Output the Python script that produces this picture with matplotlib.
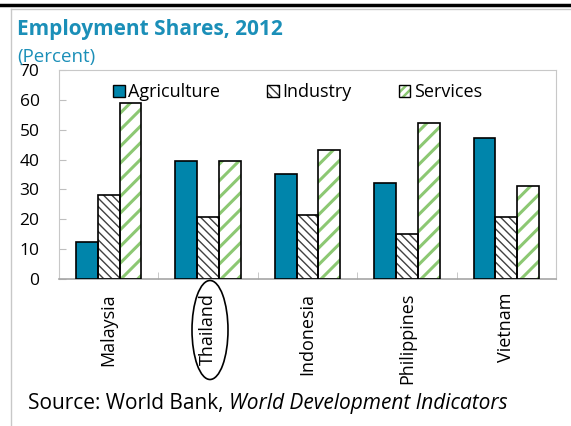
import matplotlib.pyplot as plt
from matplotlib.patches import Ellipse, Rectangle
from matplotlib.legend_handler import HandlerTuple
from matplotlib.lines import Line2D
import numpy as np

# data
countries = ['Malaysia', 'Thailand', 'Indonesia', 'Philippines', 'Vietnam']
agriculture = [12.5, 39.4, 35.1, 32.1, 47.2]
industry = [28.2, 20.9, 21.4, 15.1, 20.9]
services = [59.0, 39.4, 43.3, 52.2, 31.0]
yticks = [0, 10, 20, 30, 40, 50, 60, 70]

teal = '#0085ab'
green = '#8cc873'
title_blue = '#1b8fb8'

plt.rcParams['font.family'] = ['Open Sans', 'DejaVu Sans']

fig = plt.figure(figsize=(5.71, 4.26), dpi=100)
ax = fig.add_axes([59 / 571, 1 - 279 / 426, (556 - 59) / 571, (279 - 70) / 426])

x = np.arange(len(countries))
w = 0.219


def hatch_bars(xs, vals, hatch, hcolor, hlw):
    bars = ax.bar(xs, vals, w, color='white', edgecolor=hcolor, hatch=hatch, linewidth=0, zorder=2)
    for b in bars:
        if hasattr(b, 'set_hatch_linewidth'):
            b.set_hatch_linewidth(hlw)
    outline = ax.bar(xs, vals, w, fill=False, edgecolor='black', linewidth=1.2, zorder=3)
    return bars, outline


agri = ax.bar(x - w, agriculture, w, color=teal, edgecolor='black', linewidth=1.2, zorder=3)
ind_h, ind_o = hatch_bars(x, industry, '\\\\\\\\', '#404040', 1.0)
ser_h, ser_o = hatch_bars(x + w, services, '//', green, 2.2)

ax.set_xlim(-0.5, len(countries) - 0.5)
ax.set_ylim(0, 70)
ax.set_yticks(yticks)
ax.set_xticks(x)
ax.set_xticklabels(countries, rotation=90, fontsize=13, va='top')
ax.set_xticks(np.arange(len(countries) + 1) - 0.5, minor=True)
ax.tick_params(axis='x', which='major', length=0, pad=10)
ax.tick_params(axis='x', which='minor', direction='in', length=5, color='#bfbfbf')
ax.tick_params(axis='y', direction='in', length=5, color='#bfbfbf', labelsize=12.5, pad=14)
for s in ['top', 'right', 'left']:
    ax.spines[s].set_color('#c8c8c8')
ax.spines['bottom'].set_color('#a6a6a6')
ax.spines['bottom'].set_linewidth(1.2)

# legend with overlaid hatch + outline
agri_p = Rectangle((0, 0), 1, 1, facecolor=teal, edgecolor='black', linewidth=1)
ind_hp = Rectangle((0, 0), 1, 1, facecolor='white', edgecolor='#404040', hatch='\\\\\\\\', linewidth=0)
ind_op = Rectangle((0, 0), 1, 1, fill=False, edgecolor='black', linewidth=1)
ser_hp = Rectangle((0, 0), 1, 1, facecolor='white', edgecolor=green, hatch='////', linewidth=0)
ser_op = Rectangle((0, 0), 1, 1, fill=False, edgecolor='black', linewidth=1)
leg = ax.legend([agri_p, (ind_hp, ind_op), (ser_hp, ser_op)], ['Agriculture', 'Industry', 'Services'],
                handler_map={tuple: HandlerTuple(ndivide=1, pad=0)}, ncol=3, frameon=False,
                loc='upper center', bbox_to_anchor=(0.48, 1.015), fontsize=13,
                handlelength=0.65, handleheight=0.65, handletextpad=0.2, columnspacing=2.6)
for p in leg.findobj(Rectangle):
    if p.get_hatch() == '////' and hasattr(p, 'set_hatch_linewidth'):
        p.set_hatch_linewidth(1.8)

# titles and source
fig.text(17 / 571, 1 - 29 / 426, 'Employment Shares, 2012', fontsize=15, fontweight='bold',
         color=title_blue, va='center')
fig.text(17 / 571, 1 - 57 / 426, '(Percent)', fontsize=13.5, color=title_blue, va='center')
src = fig.text(28 / 571, 1 - 404 / 426, 'Source: World Bank, ', fontsize=15, va='center')
ax.annotate('World Development Indicators', xy=(1, 0.5), xycoords=src, va='center', ha='left',
            fontsize=15, style='italic', annotation_clip=False)

# circle around Thailand
fig.patches.append(Ellipse((210 / 571, 1 - 330 / 426), 36 / 571, 99 / 426, transform=fig.transFigure,
                           fill=False, edgecolor='black', linewidth=1.2))

# outer frame lines
fig.add_artist(Line2D([0, 1], [1 - 5 / 426, 1 - 5 / 426], color='black', linewidth=2.5))
fig.add_artist(Line2D([11 / 571, 11 / 571], [0, 1 - 9 / 426], color='#c8c8c8', linewidth=1))
fig.add_artist(Line2D([11 / 571, 1], [1 - 9 / 426, 1 - 9 / 426], color='#c8c8c8', linewidth=1))

fig.savefig('out.png', dpi=100)
